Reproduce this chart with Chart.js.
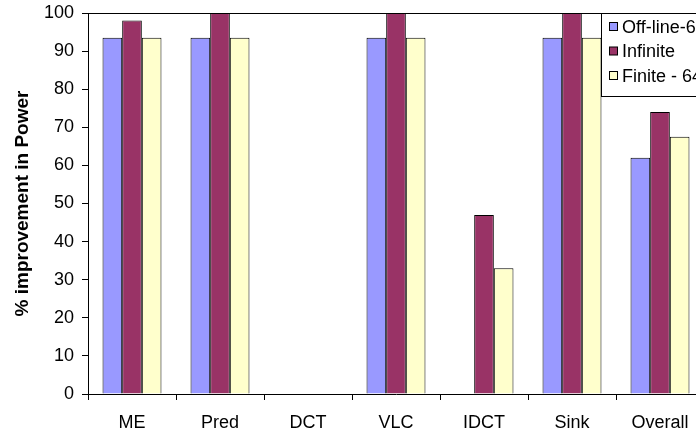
<!DOCTYPE html>
<html>
<head>
<meta charset="utf-8">
<script src="https://cdn.jsdelivr.net/npm/chart.js@4.4.0/dist/chart.umd.min.js"></script>
<style>
  html, body { margin: 0; padding: 0; background: #fff; overflow: hidden; }
  #wrap { width: 696px; height: 437px; overflow: hidden; }
</style>
</head>
<body>
<div id="wrap"><canvas id="powerChart" width="720" height="437"></canvas></div>
<script>
const categories = ["ME", "Pred", "DCT", "VLC", "IDCT", "Sink", "Overall"];
const offline = [93.5, 93.5, 0, 93.5, 0, 93.5, 62];
const infinite = [98, 100, 0, 100, 47, 100, 74];
const finite = [93.5, 93.5, 0, 93.5, 33, 93.5, 67.5];
const seriesNames = ["Off-line-64", "Infinite", "Finite - 64"];
const yTicks = [0, 10, 20, 30, 40, 50, 60, 70, 80, 90, 100];

const colors = ["#9999FF", "#993366", "#FFFFCC"];
const font = "Liberation Sans, Arial, sans-serif";

// legend box sitting over the top right corner, like the Excel original
const boxLegend = {
  id: "boxLegend",
  afterDraw(chart) {
    const ctx = chart.ctx;
    const area = chart.chartArea;
    ctx.save();
    // top border of plot area
    ctx.strokeStyle = "#000";
    ctx.lineWidth = 1;
    ctx.beginPath();
    ctx.moveTo(area.left, area.top + 0.5);
    ctx.lineTo(area.right, area.top + 0.5);
    ctx.stroke();

    const x = 601, y = 13, w = 130, h = 83;
    ctx.fillStyle = "#fff";
    ctx.fillRect(x, y, w, h);
    ctx.strokeRect(x + 0.5, y + 0.5, w, h);
    ctx.font = "18px " + font;
    ctx.textBaseline = "middle";
    chart.data.datasets.forEach((ds, i) => {
      const cy = y + 14 + i * 24.5;
      ctx.fillStyle = ds.backgroundColor;
      ctx.fillRect(x + 8.5, cy - 4.5, 8, 8);
      ctx.strokeStyle = "#000";
      ctx.strokeRect(x + 8.5, cy - 4.5, 8, 8);
      ctx.fillStyle = "#000";
      ctx.fillText(ds.label, x + 21, cy + 1);
    });
    ctx.restore();
  }
};

new Chart(document.getElementById("powerChart"), {
  type: "bar",
  data: {
    labels: categories,
    datasets: [offline, infinite, finite].map((vals, i) => ({
      label: seriesNames[i],
      data: vals,
      backgroundColor: colors[i],
      borderColor: "#000",
      borderWidth: 1,
      categoryPercentage: 0.67,
      barPercentage: 1
    }))
  },
  options: {
    responsive: false,
    animation: false,
    layout: { padding: { top: 13, right: 16, bottom: 0, left: 0 } },
    plugins: { legend: { display: false }, tooltip: { enabled: false } },
    scales: {
      x: {
        grid: { drawOnChartArea: false, drawTicks: true, tickLength: 6, color: "#000", offset: true },
        border: { color: "#000" },
        ticks: { color: "#000", font: { family: font, size: 18 }, padding: 12, maxRotation: 0 },
        afterFit(scale) { scale.height = 43; scale.paddingLeft = 0; scale.paddingRight = 0; }
      },
      y: {
        min: 0,
        max: 100,
        afterBuildTicks(scale) { scale.ticks = yTicks.map(v => ({ value: v })); },
        grid: { drawOnChartArea: false, drawTicks: true, tickLength: 6, color: "#000" },
        border: { color: "#000" },
        ticks: { color: "#000", font: { family: font, size: 18 }, padding: 8 },
        title: {
          display: true,
          text: "% improvement in Power",
          color: "#000",
          font: { family: font, size: 19, weight: "bold" },
          padding: { top: 11, bottom: 0 }
        },
        afterFit(scale) { scale.width = 88; scale.paddingTop = 0; scale.paddingBottom = 0; }
      }
    }
  },
  plugins: [boxLegend]
});
</script>
</body>
</html>
